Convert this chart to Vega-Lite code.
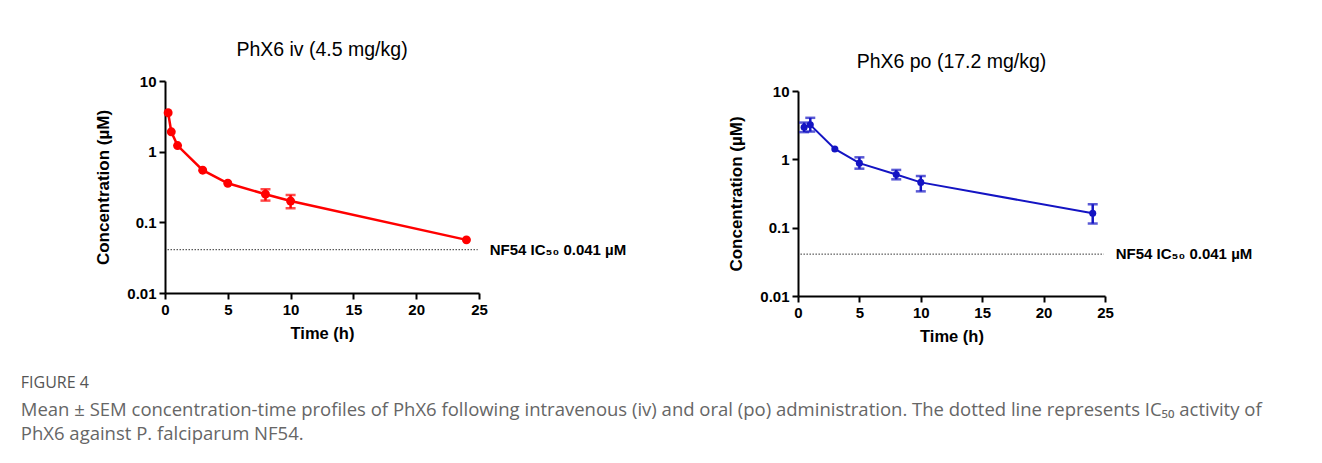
{
  "$schema": "https://vega.github.io/schema/vega-lite/v6.json",
  "background": "white",
  "padding": {"left": 20, "top": 39, "right": 10, "bottom": 5},
  "autosize": {"type": "pad"},
  "spacing": 100,
  "datasets": {
    "iv": [
      {"t": 0.25, "c": 3.55},
      {"t": 0.5, "c": 1.91},
      {"t": 1, "c": 1.22},
      {"t": 3, "c": 0.547},
      {"t": 5, "c": 0.357},
      {"t": 8, "c": 0.25, "lo": 0.203, "hi": 0.294},
      {"t": 10, "c": 0.2, "lo": 0.158, "hi": 0.244},
      {"t": 24, "c": 0.0565}
    ],
    "po": [
      {"t": 0.5, "c": 2.95, "lo": 2.5, "hi": 3.45},
      {"t": 1, "c": 3.2, "lo": 2.55, "hi": 4.05},
      {"t": 3, "c": 1.42},
      {"t": 5, "c": 0.88, "lo": 0.73, "hi": 1.07},
      {"t": 8, "c": 0.6, "lo": 0.51, "hi": 0.7},
      {"t": 10, "c": 0.46, "lo": 0.34, "hi": 0.57},
      {"t": 24, "c": 0.162, "lo": 0.115, "hi": 0.22}
    ],
    "ref": [
      {"t": 0.2, "t2": 24.9, "c": 0.041, "label": "NF54 IC₅₀ 0.041 µM"}
    ]
  },
  "config": {
    "font": "Liberation Sans",
    "view": {"stroke": null},
    "axis": {
      "domainColor": "#000", "domainWidth": 2, "tickColor": "#000", "tickWidth": 2, "tickSize": 6,
      "labelColor": "#000", "labelFont": "Liberation Sans", "labelFontSize": 15, "labelFontWeight": "bold",
      "titleFont": "Liberation Sans", "titleFontWeight": "bold", "titleColor": "#000",
      "grid": false, "labelPadding": 3, "labelFlush": false
    },
    "axisX": {"titlePadding": 8, "titleFontSize": 16.5},
    "axisY": {"titlePadding": 14, "titleFontSize": 17}
  },
  "title": {
    "text": "FIGURE 4",
    "subtitle": [
      "Mean ± SEM concentration-time profiles of PhX6 following intravenous (iv) and oral (po) administration. The dotted line represents IC₅₀ activity of",
      "PhX6 against P. falciparum NF54."
    ],
    "orient": "bottom",
    "anchor": "start",
    "dx": -74,
    "offset": 30,
    "font": "Open Sans",
    "fontSize": 16,
    "fontWeight": "normal",
    "color": "#555",
    "subtitleFont": "Open Sans",
    "subtitleFontSize": 18.5,
    "subtitleColor": "#666",
    "subtitleLineHeight": 24,
    "subtitlePadding": 10
  },
  "hconcat": [
    {
      "width": 314,
      "height": 212,
      "title": {"text": "PhX6 iv (4.5 mg/kg)", "font": "Liberation Sans", "fontSize": 19.5, "fontWeight": "normal", "color": "#000", "offset": 14},
      "encoding": {
        "x": {"field": "t", "type": "quantitative", "title": "Time (h)", "scale": {"domain": [0, 25], "nice": false}, "axis": {"values": [0, 5, 10, 15, 20, 25]}},
        "y": {"field": "c", "type": "quantitative", "title": "Concentration (µM)", "scale": {"type": "log", "domain": [0.01, 10]}, "axis": {"values": [0.01, 0.1, 1, 10], "format": "~g"}}
      },
      "layer": [
        {
          "data": {"name": "ref"},
          "mark": {"type": "rule", "strokeDash": [1.5, 1.5], "strokeWidth": 1, "color": "#333"},
          "encoding": {"x2": {"field": "t2"}}
        },
        {
          "data": {"name": "ref"},
          "mark": {"type": "text", "align": "left", "baseline": "middle", "dx": 12, "fontWeight": "bold", "fontSize": 15, "color": "#000"},
          "encoding": {"x": {"field": "t2", "type": "quantitative", "title": "Time (h)"}, "text": {"field": "label"}}
        },
        {
          "data": {"name": "iv"},
          "mark": {"type": "line", "color": "#ff0000", "strokeWidth": 2.5},
          "encoding": {}
        },
        {
          "data": {"name": "iv"},
          "transform": [{"filter": "isValid(datum.lo)"}],
          "mark": {"type": "errorbar", "ticks": {"size": 10, "thickness": 2.5}, "thickness": 2.5, "color": "#ff0000"},
          "encoding": {"y": {"field": "lo", "type": "quantitative", "title": "Concentration (µM)"}, "y2": {"field": "hi"}}
        },
        {
          "data": {"name": "iv"},
          "mark": {"type": "point", "filled": true, "opacity": 1, "size": 80, "color": "#ff0000"},
          "encoding": {}
        }
      ]
    },
    {
      "width": 307,
      "height": 215,
      "title": {"text": "PhX6 po (17.2 mg/kg)", "font": "Liberation Sans", "fontSize": 19.5, "fontWeight": "normal", "color": "#000", "offset": 9},
      "encoding": {
        "x": {"field": "t", "type": "quantitative", "title": "Time (h)", "scale": {"domain": [0, 25], "nice": false}, "axis": {"values": [0, 5, 10, 15, 20, 25]}},
        "y": {"field": "c", "type": "quantitative", "title": "Concentration (µM)", "scale": {"type": "log", "domain": [0.01, 10], "range": [215, 10]}, "axis": {"values": [0.01, 0.1, 1, 10], "format": "~g"}}
      },
      "layer": [
        {
          "data": {"name": "ref"},
          "mark": {"type": "rule", "strokeDash": [1.5, 1.5], "strokeWidth": 1, "color": "#333"},
          "encoding": {"x2": {"field": "t2"}}
        },
        {
          "data": {"name": "ref"},
          "mark": {"type": "text", "align": "left", "baseline": "middle", "dx": 12, "fontWeight": "bold", "fontSize": 15, "color": "#000"},
          "encoding": {"x": {"field": "t2", "type": "quantitative", "title": "Time (h)"}, "text": {"field": "label"}}
        },
        {
          "data": {"name": "po"},
          "mark": {"type": "line", "color": "#1414c3", "strokeWidth": 2},
          "encoding": {}
        },
        {
          "data": {"name": "po"},
          "transform": [{"filter": "isValid(datum.lo)"}],
          "mark": {"type": "errorbar", "ticks": {"size": 10, "thickness": 2.5}, "thickness": 2.5, "color": "#1414c3"},
          "encoding": {"y": {"field": "lo", "type": "quantitative", "title": "Concentration (µM)"}, "y2": {"field": "hi"}}
        },
        {
          "data": {"name": "po"},
          "mark": {"type": "point", "filled": true, "opacity": 1, "size": 50, "color": "#1414c3"},
          "encoding": {}
        }
      ]
    }
  ]
}
